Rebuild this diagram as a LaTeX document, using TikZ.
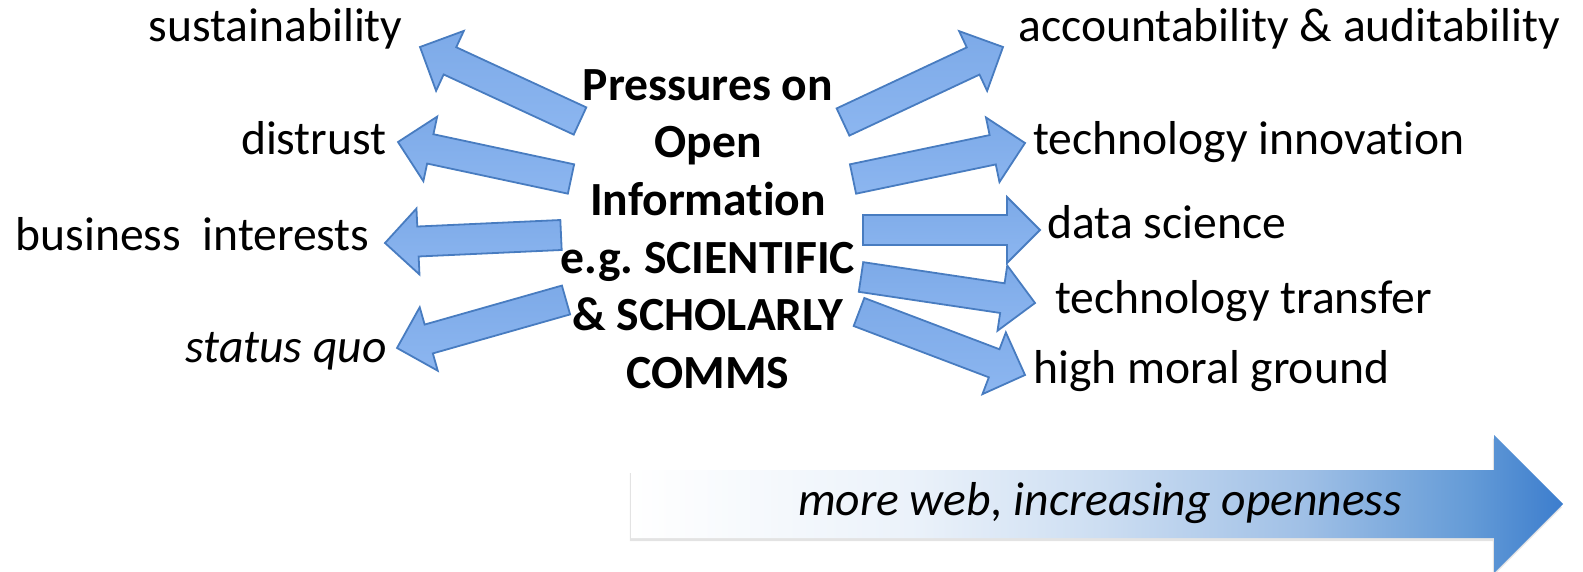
\documentclass[tikz,border=0pt]{standalone}
\usepackage{fontspec}
\setmainfont{Carlito}[Ligatures=CommonOff]
\usetikzlibrary{calc,positioning,shadows}
\tikzset{>=stealth}
\definecolor{arrowline}{RGB}{72,124,192}
\definecolor{arrowtop}{RGB}{125,170,232}
\definecolor{arrowmid}{RGB}{160,198,248}
\definecolor{arrowbot}{RGB}{140,182,240}
\definecolor{webpale}{RGB}{235,242,250}
\definecolor{webmid}{RGB}{205,222,242}
\definecolor{weblight}{RGB}{160,192,230}
\definecolor{webdeep}{RGB}{100,155,215}
\definecolor{webblue}{RGB}{60,125,205}
\pgfdeclarehorizontalshading{openness}{100bp}{color(0bp)=(white); color(25bp)=(white); color(40bp)=(webpale); color(50bp)=(webmid); color(61bp)=(weblight); color(70bp)=(webdeep); color(75bp)=(webblue); color(100bp)=(webblue)}
\newcommand\picfont{\fontsize{23.8}{28.8}\selectfont}
\tikzset{
  fatarrow/.style={draw=arrowline, line width=0.9pt, line join=miter, top color=arrowtop, middle color=arrowmid, bottom color=arrowbot},
  webarrow/.style={shading=openness, drop shadow={opacity=0.22, shadow xshift=-0.6pt, shadow yshift=-1.6pt}},
  every node/.style={inner sep=0pt, font=\picfont}
}
\newcommand\blockarrow[2]{%
  \coordinate (ba-b) at ($(#2)!16.5pt!(#1)$);
  \draw[fatarrow] ($(#1)!7.5pt!90:(#2)$) -- ($(ba-b)!7.5pt!90:(#2)$) -- ($(ba-b)!16.5pt!90:(#2)$) -- (#2)
    -- ($(ba-b)!16.5pt!-90:(#2)$) -- ($(ba-b)!7.5pt!-90:(#2)$) -- ($(#1)!7.5pt!-90:(#2)$) -- cycle;
}

\begin{document}
\begin{tikzpicture}[x=0.5pt,y=-0.5pt]
\useasboundingbox (0,0) rectangle (1583,572);
\node[font=\picfont\bfseries, align=center] (centre) at (708,229) {Pressures on\\Open\\Information\\e.g.\ SCIENTIFIC\\\& SCHOLARLY\\COMMS};
\node[anchor=base east] (sust) at (403,42) {sustainability};
\node[anchor=base east] (distrust) at (387,155) {distrust};
\node[anchor=base east] (business) at (370,250) {business\ \ interests};
\node[anchor=base east, font=\picfont\itshape] (quo) at (387,362) {status quo};
\node[anchor=base west] (account) at (1018,42) {accountability \& auditability};
\node[anchor=base west] (innov) at (1033,155) {technology innovation};
\node[anchor=base west] (datasci) at (1047,238) {data science};
\node[anchor=base west] (transfer) at (1055,313) {technology transfer};
\node[anchor=base west] (moral) at (1033,383) {high moral ground};
\coordinate (l1) at (580,121); \coordinate (L1) at (420,47);
\coordinate (l2) at (571,179); \coordinate (L2) at (398,142);
\coordinate (l3) at (561,235); \coordinate (L3) at (385,243);
\coordinate (l4) at (566,300); \coordinate (L4) at (397,348);
\coordinate (r1) at (843,122); \coordinate (R1) at (1003,47);
\coordinate (r2) at (853,179); \coordinate (R2) at (1025,143);
\coordinate (r3) at (863,230); \coordinate (R3) at (1040,230);
\coordinate (r4) at (861,277); \coordinate (R4) at (1035,303);
\coordinate (r5) at (859,312); \coordinate (R5) at (1025,375);
\foreach \t/\h in {l1/L1,l2/L2,l3/L3,l4/L4,r1/R1,r2/R2,r3/R3,r4/R4,r5/R5}{
\blockarrow{\t}{\h}
};
\path[webarrow] (631,470) -- (1494,470) -- (1494,435) -- (1563,504) -- (1494,573) -- (1494,538) -- (631,538) -- cycle;
\node[anchor=base, font=\picfont\itshape] (web) at (1100,515) {more web, increasing openness};
\end{tikzpicture}
\end{document}
